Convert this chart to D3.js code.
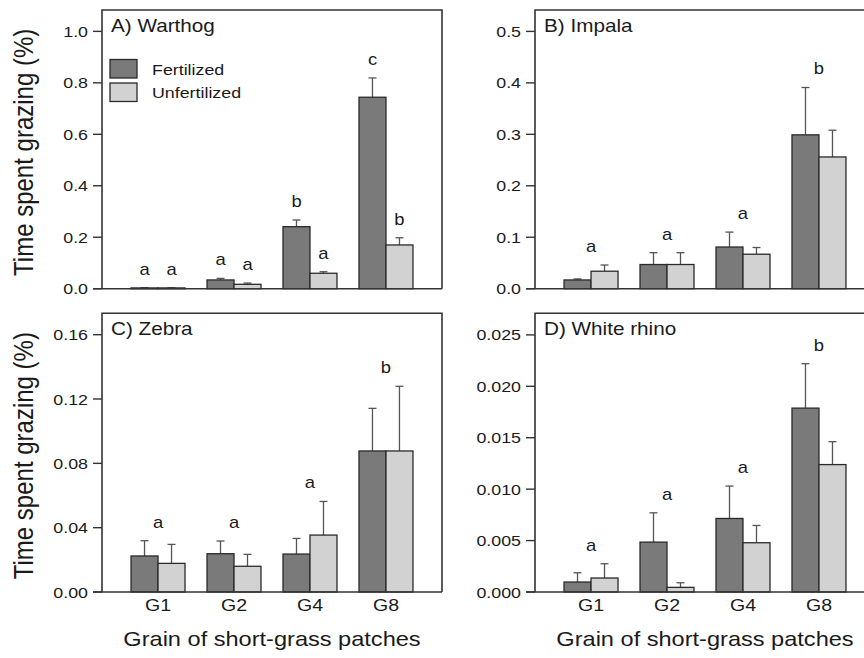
<!DOCTYPE html>
<html>
<head>
<meta charset="utf-8">
<script src="https://cdn.jsdelivr.net/npm/d3@7"></script>
<style>
  body { margin: 0; background: #fff; }
  text { font-family: "Liberation Sans", Arial, sans-serif; fill: #1a1a1a; }
</style>
</head>
<body>
<svg id="canvas" width="864" height="658"></svg>
<script>
// grain categories and treatment groups
const grains = ["G1", "G2", "G4", "G8"];
const treatments = ["Fertilized", "Unfertilized"];

// A) Warthog
const warthogFert = [0.003, 0.034, 0.241, 0.744];
const warthogFertSE = [0.001, 0.006, 0.026, 0.075];
const warthogUnfert = [0.003, 0.017, 0.060, 0.170];
const warthogUnfertSE = [0.001, 0.005, 0.006, 0.028];
const warthogLettersFert = ["a", "a", "b", "c"];
const warthogLettersUnfert = ["a", "a", "a", "b"];
const warthogTicks = [0, 0.2, 0.4, 0.6, 0.8, 1.0];

// B) Impala
const impalaFert = [0.017, 0.047, 0.081, 0.299];
const impalaFertSE = [0.002, 0.023, 0.029, 0.092];
const impalaUnfert = [0.034, 0.047, 0.067, 0.256];
const impalaUnfertSE = [0.012, 0.023, 0.013, 0.052];
const impalaLetters = ["a", "a", "a", "b"];
const impalaTicks = [0, 0.1, 0.2, 0.3, 0.4, 0.5];

// C) Zebra
const zebraFert = [0.0224, 0.0238, 0.0236, 0.0877];
const zebraFertSE = [0.0095, 0.0079, 0.0097, 0.0265];
const zebraUnfert = [0.0178, 0.0160, 0.0354, 0.0877];
const zebraUnfertSE = [0.0118, 0.0074, 0.0209, 0.0402];
const zebraLetters = ["a", "a", "a", "b"];
const zebraTicks = [0, 0.04, 0.08, 0.12, 0.16];

// D) White rhino
const rhinoFert = [0.00097, 0.00485, 0.00715, 0.01788];
const rhinoFertSE = [0.0009, 0.00285, 0.00315, 0.00432];
const rhinoUnfert = [0.00136, 0.00045, 0.00479, 0.01239];
const rhinoUnfertSE = [0.00139, 0.00045, 0.00168, 0.00223];
const rhinoLetters = ["a", "a", "a", "b"];
const rhinoTicks = [0, 0.005, 0.010, 0.015, 0.020, 0.025];

const SX = 1.15; // the figure is a bit stretched sideways
const fillColor = {Fertilized: "#7a7a7a", Unfertilized: "#d2d2d2"};
const lineColor = "#333";

let svg = d3.select("#canvas");

//text with the horizontal stretch baked in
function stext(g, x, y, txt, size){
    return g.append("text")
        .attr("transform", `translate(${x},${y}) scale(${SX},1)`)
        .attr("font-size", size)
        .text(txt);
}

function drawPanel(p){
    let g = svg.append("g").attr("transform", `translate(${p.left},${p.top})`);
    const w = 340, h = p.bottom - p.top;

    let x = d3.scaleBand().domain(grains).range([0, w])
        .paddingInner(0.2895).paddingOuter(0.382);
    let xSub = d3.scaleBand().domain(treatments).range([0, x.bandwidth()]);
    let y = d3.scaleLinear().domain([0, p.ymax]).range([h, 0]);

    let rows = [];
    grains.forEach((gr, i) => {
        rows.push({grain: gr, t: "Fertilized", v: p.fert[i], se: p.fertSE[i],
                   letter: p.lettersFert ? p.lettersFert[i] : null});
        rows.push({grain: gr, t: "Unfertilized", v: p.unfert[i], se: p.unfertSE[i],
                   letter: p.lettersUnfert ? p.lettersUnfert[i] : null});
    });
    const cx = d => x(d.grain) + xSub(d.t) + xSub.bandwidth() / 2;

    // error bars (upper only)
    let eb = g.selectAll(".err").data(rows).join("g").attr("class", "err")
        .attr("stroke", "#555").attr("stroke-width", 1.3);
    eb.append("line")
        .attr("x1", cx).attr("x2", cx)
        .attr("y1", d => y(d.v)).attr("y2", d => y(d.v + d.se));
    eb.append("line")
        .attr("x1", d => cx(d) - 4).attr("x2", d => cx(d) + 4)
        .attr("y1", d => y(d.v + d.se)).attr("y2", d => y(d.v + d.se));

    // bars
    g.selectAll(".bar").data(rows).join("rect").attr("class", "bar")
        .attr("x", d => x(d.grain) + xSub(d.t))
        .attr("width", xSub.bandwidth())
        .attr("y", d => y(d.v))
        .attr("height", d => h - y(d.v))
        .attr("fill", d => fillColor[d.t])
        .attr("stroke", "#2a2a2a").attr("stroke-width", 1.3);

    // significance letters
    if (p.lettersFert){
        rows.forEach(d => {
            stext(g, cx(d), y(d.v + d.se) - 13, d.letter, 16).attr("text-anchor", "middle");
        });
    } else {
        grains.forEach((gr, i) => {
            let top = Math.max(p.fert[i] + p.fertSE[i], p.unfert[i] + p.unfertSE[i]);
            stext(g, x(gr) + x.bandwidth() / 2, y(top) - 13, p.letters[i], 16)
                .attr("text-anchor", "middle");
        });
    }

    // box: left, top, right + bottom axis line
    g.append("path")
        .attr("d", `M0,${h}V0H${w}V${h}M-9,${h}H${w}`)
        .attr("fill", "none").attr("stroke", lineColor).attr("stroke-width", 1.6);

    // y ticks
    p.ticks.forEach(t => {
        g.append("line").attr("x1", -9).attr("x2", 0)
            .attr("y1", y(t)).attr("y2", y(t))
            .attr("stroke", lineColor).attr("stroke-width", 1.4);
        stext(g, -14, y(t), d3.format(p.fmt)(t), 15.5)
            .attr("text-anchor", "end").attr("dy", "0.36em");
    });

    // x tick labels on bottom row
    if (p.xlabels){
        grains.forEach(gr => {
            stext(g, x(gr) + x.bandwidth() / 2, h + 19, gr, 17).attr("text-anchor", "middle");
        });
        stext(g, w / 2, h + 54, "Grain of short-grass patches", 20.5).attr("text-anchor", "middle");
    }

    stext(g, 9, 22, p.title, 18);

    if (p.ytitle){
        g.append("text")
            .attr("transform", `translate(${33 - p.left},${h / 2 + 3}) scale(${SX},1) rotate(-90)`)
            .attr("text-anchor", "middle")
            .attr("font-size", 24)
            .text("Time spent grazing (%)");
    }

    if (p.legend){
        treatments.forEach((t, i) => {
            g.append("rect").attr("x", 8).attr("y", 49.5 + i * 23.5)
                .attr("width", 27).attr("height", 18.5)
                .attr("fill", fillColor[t]).attr("stroke", "#2a2a2a").attr("stroke-width", 1.3);
            stext(g, 50, 64.5 + i * 23.5, t, 15.5);
        });
    }
}

drawPanel({left: 102, top: 10, bottom: 288.7, ymax: 1.083, ticks: warthogTicks, fmt: ".1f",
    fert: warthogFert, fertSE: warthogFertSE, unfert: warthogUnfert, unfertSE: warthogUnfertSE,
    lettersFert: warthogLettersFert, lettersUnfert: warthogLettersUnfert,
    title: "A) Warthog", ytitle: true, legend: true});
drawPanel({left: 535, top: 10, bottom: 288.7, ymax: 0.5416, ticks: impalaTicks, fmt: ".1f",
    fert: impalaFert, fertSE: impalaFertSE, unfert: impalaUnfert, unfertSE: impalaUnfertSE,
    letters: impalaLetters, title: "B) Impala"});
drawPanel({left: 102, top: 313.3, bottom: 592, ymax: 0.1733, ticks: zebraTicks, fmt: ".2f",
    fert: zebraFert, fertSE: zebraFertSE, unfert: zebraUnfert, unfertSE: zebraUnfertSE,
    letters: zebraLetters, title: "C) Zebra", ytitle: true, xlabels: true});
drawPanel({left: 535, top: 313.3, bottom: 592, ymax: 0.0271, ticks: rhinoTicks, fmt: ".3f",
    fert: rhinoFert, fertSE: rhinoFertSE, unfert: rhinoUnfert, unfertSE: rhinoUnfertSE,
    letters: rhinoLetters, title: "D) White rhino", xlabels: true});
</script>
</body>
</html>
